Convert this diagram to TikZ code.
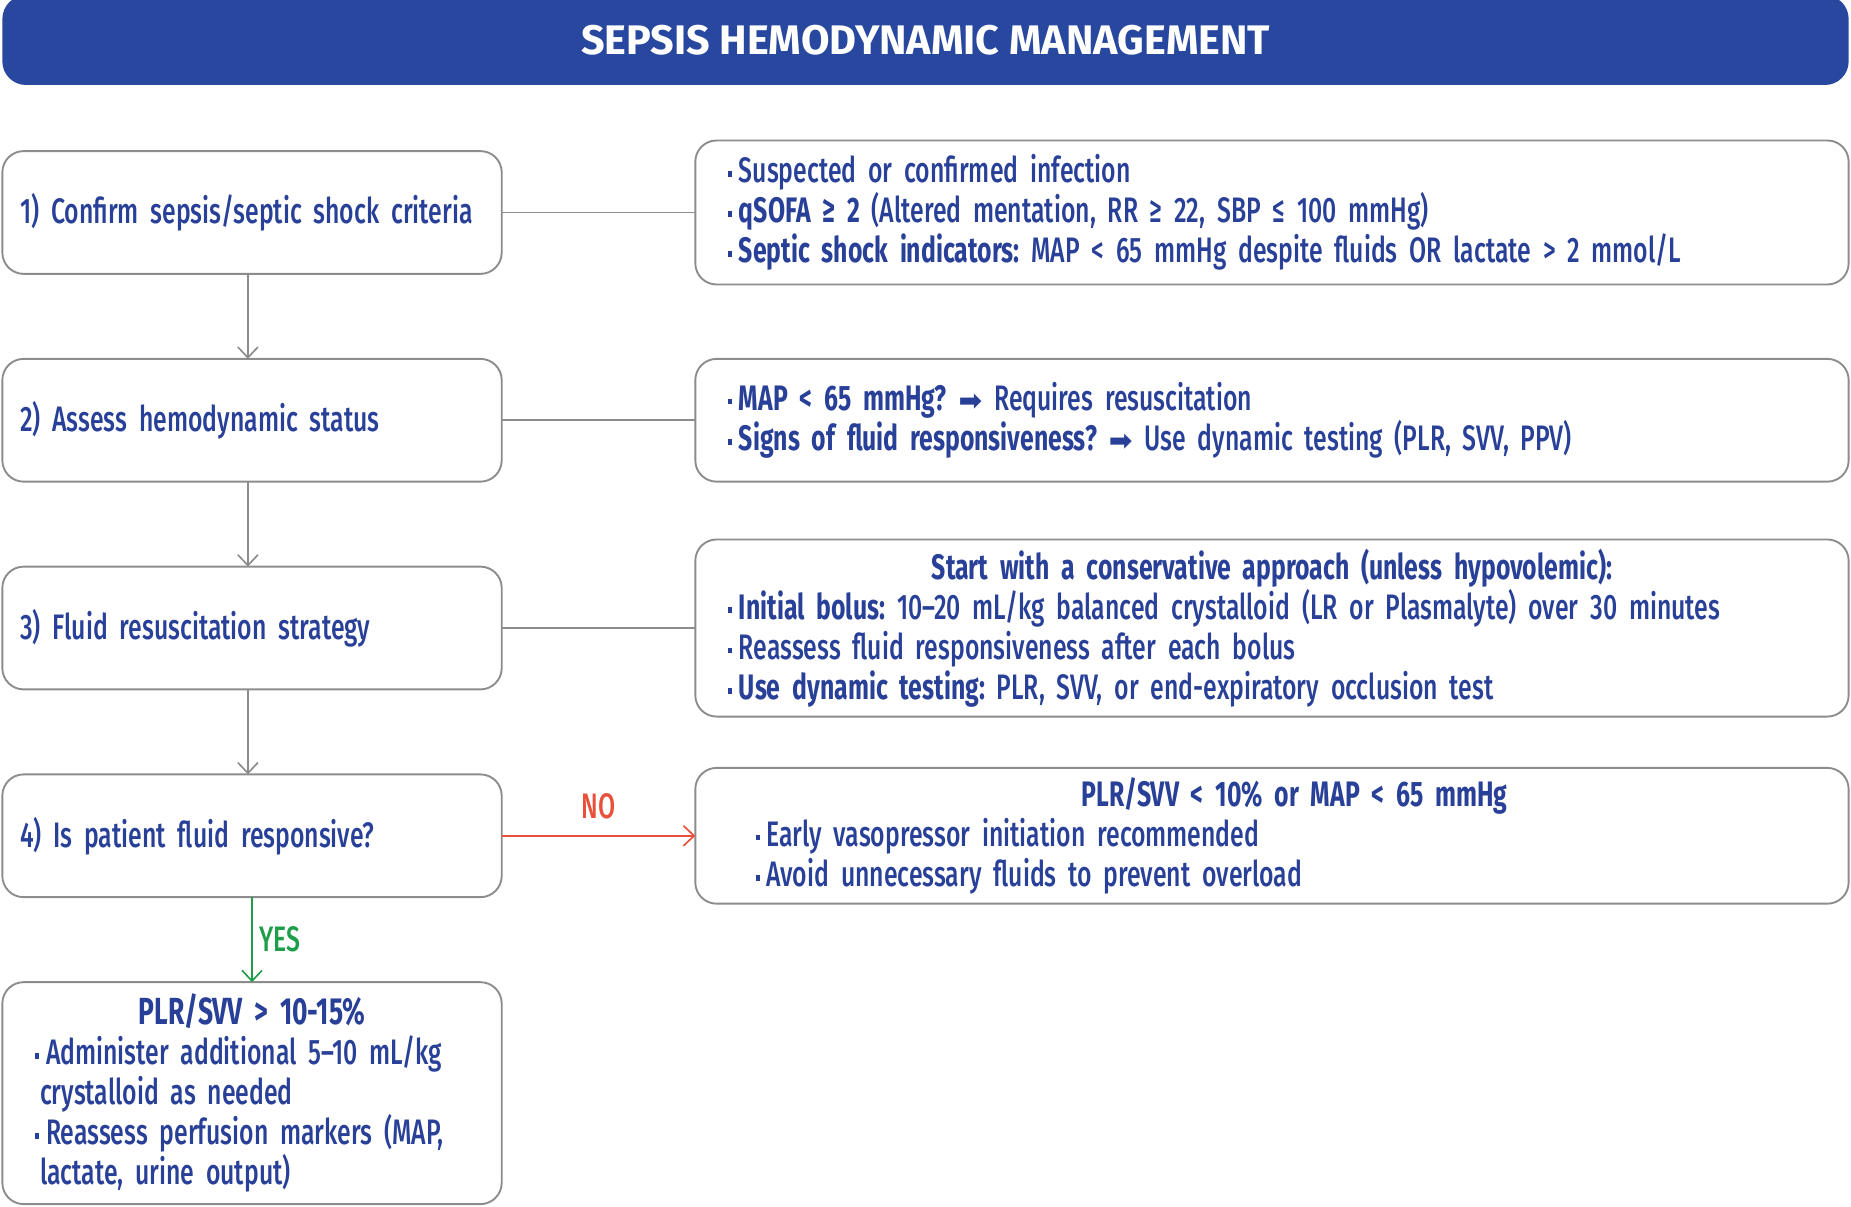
\documentclass[tikz,border=0pt]{standalone}
\usepackage{fontspec}
\setmainfont[FakeStretch=0.70, WordSpace=0.45, UprightFont=* Medium, BoldFont=* Bold]{Fira Sans}
\newfontfamily\titlefont[FakeStretch=1.0]{Fira Sans}
\newfontfamily\arrowfont{DejaVu Sans}
\frenchspacing
\hyphenpenalty=10000
\usepackage{xcolor}
\definecolor{myblue}{RGB}{40, 72, 160}
\definecolor{txtblue}{RGB}{40, 64, 152}
\definecolor{boxgray}{RGB}{140, 140, 140}
\definecolor{nored}{RGB}{232, 80, 58}
\definecolor{yesgreen}{RGB}{30, 158, 74}
\usepackage{tikz}
\usetikzlibrary{
    arrows.meta,
    positioning
}
\newcommand{\sqdot}{\makebox[9pt][l]{\rule[5pt]{3.4pt}{5pt}}}
\newcommand{\thenarrow}{{\arrowfont\fontsize{24}{24}\selectfont ➡}}

\begin{document}
\begin{tikzpicture}[
  x=1pt, y=-1pt,
  node distance=72pt and 164pt,
  every node/.style={text=txtblue, font=\fontsize{30}{34}\selectfont},
  stepbox/.style={draw=boxgray, line width=1.6pt, rounded corners=18pt, fill=white, outer sep=0pt,
    minimum width=423pt, minimum height=104pt, text width=393pt, inner xsep=15pt, align=left},
  infobox/.style={draw=boxgray, line width=1.6pt, rounded corners=18pt, fill=white, outer sep=0pt,
    minimum width=977pt, text width=921pt, inner xsep=28pt, align=left},
  link/.style={boxgray, line width=1.4pt},
  arrow/.style={line width=1.4pt, -{Straight Barb[length=9pt, width=17pt]}}
]
\useasboundingbox (0,0) rectangle (1568,1022);

\node (title) [fill=myblue, rounded corners=20pt, minimum width=1564pt, minimum height=76pt,
  inner sep=0pt, text=white, font=\titlefont\bfseries\fontsize{35}{40}\selectfont]
  at (784,34) {SEPSIS HEMODYNAMIC MANAGEMENT};

\node (confirm) [stepbox] at (213.5,180) {1) Confirm sepsis/septic shock criteria};
\node (assess) [stepbox, below=of confirm] {2) Assess hemodynamic status};
\node (strategy) [stepbox, below=of assess] {3) Fluid resuscitation strategy};
\node (responsive) [stepbox, below=of strategy] {4) Is patient fluid responsive?};
\node (yesbox) [stepbox, below=of responsive, minimum height=188pt, inner xsep=28pt, text width=367pt] {%
  \makebox[\hsize]{\bfseries\fontsize{32}{34}\selectfont PLR/SVV > 10-15\%}\\
  \sqdot Administer additional 5--10 mL/kg\\
  \hspace*{4pt}crystalloid as needed\\
  \sqdot Reassess perfusion markers (MAP,\\
  \hspace*{4pt}lactate, urine output)};

\node (criteria) [infobox, right=of confirm, minimum height=122pt] {%
  \sqdot Suspected or confirmed infection\\
  \sqdot\textbf{qSOFA ≥ 2} (Altered mentation, RR ≥ 22, SBP ≤ 100 mmHg)\\
  \sqdot\textbf{Septic shock indicators:} MAP < 65 mmHg despite fluids OR lactate > 2 mmol/L};
\node (status) [infobox, right=of assess, minimum height=104pt] {%
  \sqdot\textbf{MAP < 65 mmHg? \thenarrow} Requires resuscitation\\
  \sqdot\textbf{Signs of fluid responsiveness? \thenarrow} Use dynamic testing (PLR, SVV, PPV)};
\node (approach) [infobox, right=of strategy, minimum height=150pt] {%
  \makebox[\hsize]{\bfseries Start with a conservative approach (unless hypovolemic):}\\
  \sqdot\textbf{Initial bolus:} 10--20 mL/kg balanced crystalloid (LR or Plasmalyte) over 30 minutes\\
  \sqdot Reassess fluid responsiveness after each bolus\\
  \sqdot\textbf{Use dynamic testing:} PLR, SVV, or end-expiratory occlusion test};
\node (nobox) [infobox, right=of responsive, minimum height=115pt] {%
  \makebox[\hsize]{\hspace*{38pt}\bfseries PLR/SVV < 10\% or MAP < 65 mmHg}\\
  \hspace*{23pt}\sqdot Early vasopressor initiation recommended\\
  \hspace*{23pt}\sqdot Avoid unnecessary fluids to prevent overload};

\draw[link] (confirm) -- (criteria);
\draw[link] (assess) -- (status);
\draw[link] (strategy) -- (approach);

\draw[link, arrow] ([xshift=-3.5pt]confirm.south) -- ([xshift=-3.5pt]assess.north);
\draw[link, arrow] ([xshift=-3.5pt]assess.south) -- ([xshift=-3.5pt]strategy.north);
\draw[link, arrow] ([xshift=-3.5pt]strategy.south) -- ([xshift=-3.5pt]responsive.north);

\draw[nored, arrow] (responsive) -- (nobox) node[midway, above=10pt, text=nored] {NO};
\draw[yesgreen, arrow] (responsive) -- (yesbox) node[midway, right=2pt, text=yesgreen] {YES};

\end{tikzpicture}
\end{document}
